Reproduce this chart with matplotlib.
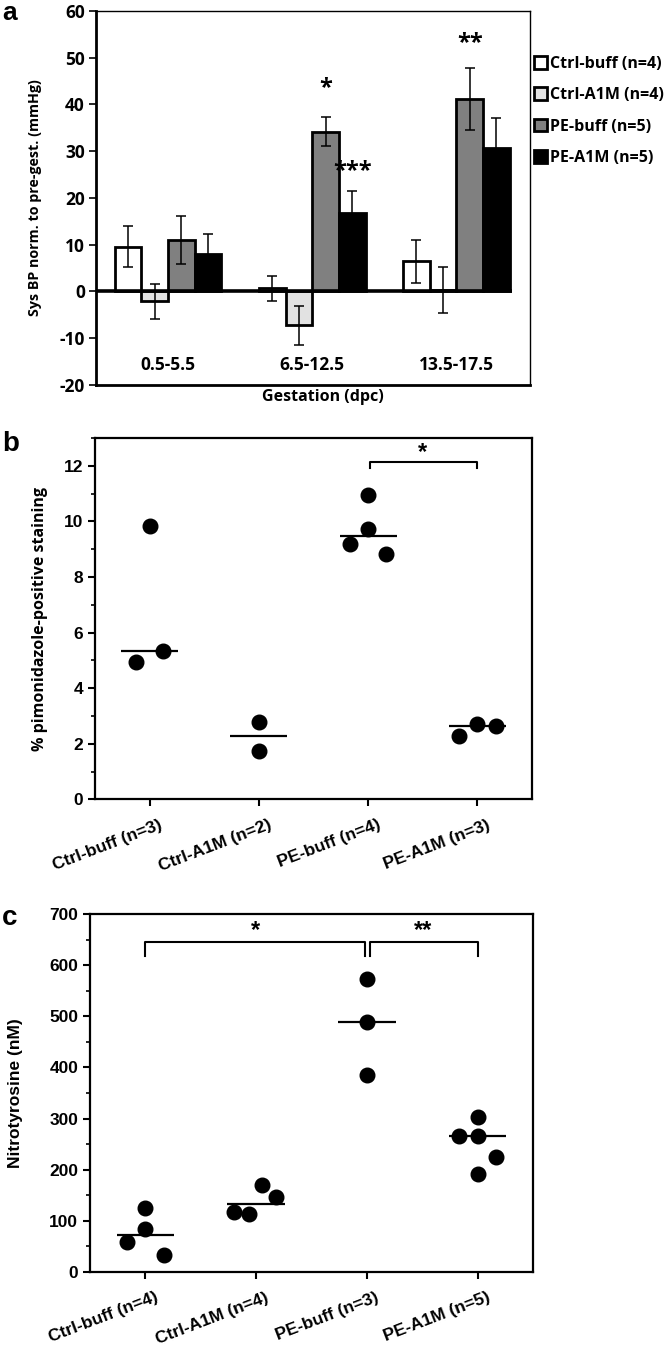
import matplotlib
matplotlib.use("Agg")
import matplotlib.pyplot as plt
from matplotlib.patches import Patch
from matplotlib.ticker import MultipleLocator
import matplotlib.transforms as mtrans
import numpy as np

plt.rcParams['axes.unicode_minus'] = False

# ---------------- data ----------------
# Panel a
a_groups = ['0.5-5.5', '6.5-12.5', '13.5-17.5']
a_series = ['Ctrl-buff (n=4)', 'Ctrl-A1M (n=4)', 'PE-buff (n=5)', 'PE-A1M (n=5)']
a_colors = ['#ffffff', '#e2e2e2', '#808080', '#000000']
ctrl_buff_mean = [9.6, 0.7, 6.5]
ctrl_buff_err = [4.4, 2.7, 4.6]
ctrl_a1m_mean = [-2.1, -7.2, 0.3]
ctrl_a1m_err = [3.8, 4.2, 4.9]
pe_buff_mean = [11.0, 34.2, 41.2]
pe_buff_err = [5.1, 3.1, 6.6]
pe_a1m_mean = [8.0, 16.8, 30.8]
pe_a1m_err = [4.4, 4.8, 6.4]
a_stars = [('*', 1, 2, 43.5), ('***', 1, 3, 25.7), ('**', 2, 2, 53.2)]  # text, group, series, y

# Panel b
b_groups = ['Ctrl-buff (n=3)', 'Ctrl-A1M (n=2)', 'PE-buff (n=4)', 'PE-A1M (n=3)']
b_values = [[9.82, 4.95, 5.32], [2.77, 1.74], [10.94, 9.74, 9.19, 8.84], [2.28, 2.70, 2.63]]
b_offsets = [[0.0, -0.122, 0.125], [0.0, 0.0], [0.0, 0.0, -0.162, 0.168], [-0.165, 0.0, 0.168]]
b_medians = [5.32, 2.26, 9.48, 2.65]

# Panel c
c_groups = ['Ctrl-buff (n=4)', 'Ctrl-A1M (n=4)', 'PE-buff (n=3)', 'PE-A1M (n=5)']
c_values = [[124.2, 84.2, 57.6, 33.3], [116.4, 112.4, 169.2, 146.9],
            [573.9, 488.5, 385.3], [302.4, 265.8, 265.8, 225.3, 191.4]]
c_offsets = [[0.0, 0.0, -0.162, 0.168], [-0.199, -0.066, 0.054, 0.175],
             [0.0, 0.0, 0.0], [0.0, 0.0, -0.165, 0.166, 0.0]]
c_medians = [72.5, 133.2, 490.0, 265.8]

# ---------------- figure ----------------
fig = plt.figure(figsize=(6.66, 13.55), dpi=100)
W, H = 666.0, 1355.0

def box(l, t, r, b):
    return [l / W, 1 - b / H, (r - l) / W, (b - t) / H]

FA = 'Open Sans'
FB = 'Liberation Sans'

# ---------------- panel a ----------------
ax = fig.add_axes(box(96, 11, 530, 385))
means = [ctrl_buff_mean, ctrl_a1m_mean, pe_buff_mean, pe_a1m_mean]
errs = [ctrl_buff_err, ctrl_a1m_err, pe_buff_err, pe_a1m_err]
w = 0.185
xg = np.arange(len(a_groups))
for i, (m, e, c) in enumerate(zip(means, errs, a_colors)):
    xs = xg + (i - 1.5) * w
    ax.bar(xs, m, width=w, color=c, edgecolor='black', linewidth=2.0, zorder=2)
    ax.errorbar(xs, m, yerr=e, fmt='none', ecolor='black', elinewidth=1.1,
                capsize=3.6, capthick=1.1, zorder=3)
ax.plot([-0.5, 2.385], [0, 0], color='black', linewidth=2.6, zorder=4, solid_capstyle='butt')
ax.set_xlim(-0.5, 2.51)
ax.set_ylim(-20, 60)
ax.yaxis.set_major_locator(MultipleLocator(10))
ax.set_xticks([])
for t, g, s, y in a_stars:
    ax.text(g + (s - 1.5) * w, y, t, ha='center', va='center', fontsize=17,
            fontfamily=FA, fontweight='bold')
for i, g in enumerate(a_groups):
    ax.text(i, -15.7, g, ha='center', va='center', fontsize=12.5,
            fontfamily=FA, fontweight='bold')
ax.set_ylabel('Sys BP norm. to pre-gest. (mmHg)', fontsize=10.3, fontfamily=FA,
              fontweight='bold')
ax.yaxis.set_label_coords(-0.125, 0.5)
ax.set_xlabel('Gestation (dpc)', fontsize=11.5, fontfamily=FA, fontweight='bold')
ax.xaxis.set_label_coords(0.523, -0.010)
for lab in ax.get_yticklabels():
    lab.set_fontfamily(FA)
    lab.set_fontweight('bold')
    lab.set_fontsize(12.5)
ax.tick_params(axis='y', direction='out', length=5, width=1.2, pad=3)
ax.spines['left'].set_linewidth(2.0)
ax.spines['bottom'].set_linewidth(2.0)
ax.spines['top'].set_linewidth(1.0)
ax.spines['right'].set_linewidth(1.0)
handles = [Patch(facecolor=c, edgecolor='black', linewidth=2.0) for c in a_colors]
fig.legend(handles, a_series, loc='upper left', bbox_to_anchor=(531 / W, 1 - 53 / H),
           frameon=False, handlelength=0.8, handleheight=0.85, handletextpad=0.2,
           labelspacing=0.95, borderpad=0.2, borderaxespad=0,
           prop={'family': FA, 'weight': 'bold', 'size': 11.5})
fig.text(2 / W, 1 - 1 / H, 'a', fontsize=19, fontweight='bold', fontfamily=FB,
         ha='left', va='top')

# ---------------- panels b and c ----------------
def dotpanel(ax, groups, values, offsets, medians, ylim, major, minor, ylabel, yfont, yweight, ysize):
    for i, (vals, offs) in enumerate(zip(values, offsets)):
        ax.plot(np.array(offs) + i, vals, 'o', color='black', markersize=10.5, zorder=3,
                linestyle='none')
        ax.plot([i - 0.26, i + 0.26], [medians[i], medians[i]], color='black',
                linewidth=1.6, zorder=2, solid_capstyle='butt')
    ax.set_xlim(-0.5, 3.5)
    ax.set_ylim(*ylim)
    ax.set_xticks(range(len(groups)))
    ax.set_xticklabels(groups, rotation=21, ha='right', rotation_mode='anchor',
                       fontfamily=FB, fontweight='bold', fontsize=12.5)
    ax.yaxis.set_major_locator(MultipleLocator(major))
    ax.yaxis.set_minor_locator(MultipleLocator(minor))
    for lab in ax.get_yticklabels():
        lab.set_fontfamily(FB)
        lab.set_fontweight('bold')
        lab.set_fontsize(12.5)
    ax.tick_params(axis='both', which='major', direction='out', length=5, width=1.5)
    ax.tick_params(axis='y', which='minor', direction='out', length=3, width=1.2)
    ax.tick_params(axis='x', which='major', pad=8)
    for s in ax.spines.values():
        s.set_linewidth(1.6)
    ax.set_ylabel(ylabel, fontfamily=yfont, fontweight=yweight, fontsize=ysize)
    for lab in ax.get_xticklabels():
        lab.set_transform(lab.get_transform() +
                          mtrans.ScaledTranslation(9 / 100, 0, fig.dpi_scale_trans))

axb = fig.add_axes(box(95, 438, 532, 799.3))
dotpanel(axb, b_groups, b_values, b_offsets, b_medians, (0, 13), 2, 1,
         '% pimonidazole-positive staining', FA, 'bold', 11.5)
axb.yaxis.set_label_coords(-0.108, 0.5)
axb.plot([2.02, 2.02, 3.0, 3.0], [11.93, 12.13, 12.13, 11.93], color='black', linewidth=1.5)
axb.text(2.5, 12.48, '*', ha='center', va='center', fontsize=17, fontfamily=FB, fontweight='bold')
fig.text(2 / W, 1 - 451 / H, 'b', fontsize=20, fontweight='bold', fontfamily=FB,
         ha='left', va='baseline')

axc = fig.add_axes(box(90, 914.3, 533, 1271.7))
dotpanel(axc, c_groups, c_values, c_offsets, c_medians, (0, 700), 100, 50,
         'Nitrotyrosine (nM)', FB, 'bold', 12.5)
axc.yaxis.set_label_coords(-0.152, 0.5)
axc.plot([0, 0, 1.98, 1.98], [618, 646, 646, 618], color='black', linewidth=1.5)
axc.plot([2.03, 2.03, 3.0, 3.0], [618, 646, 646, 618], color='black', linewidth=1.5)
axc.text(0.99, 668, '*', ha='center', va='center', fontsize=17, fontfamily=FB, fontweight='bold')
axc.text(2.51, 668, '**', ha='center', va='center', fontsize=17, fontfamily=FB, fontweight='bold')
fig.text(2 / W, 1 - 925 / H, 'c', fontsize=20, fontweight='bold', fontfamily=FB,
         ha='left', va='baseline')

fig.savefig('out.png', dpi=100)
